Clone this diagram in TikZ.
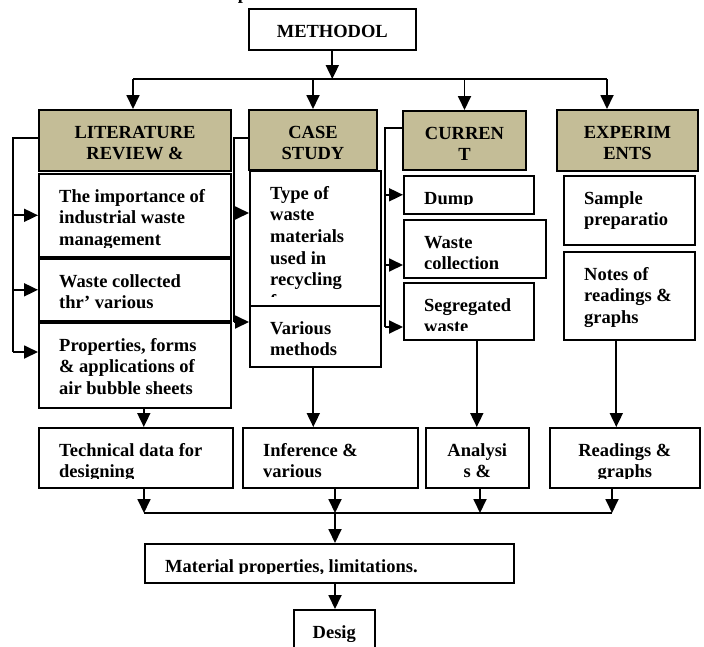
\documentclass[tikz,border=0pt]{standalone}
\usepackage{fontspec}
\setmainfont{Liberation Serif}
\usetikzlibrary{arrows.meta}
\definecolor{headtan}{HTML}{C4BD97}
\newcommand\chartfont{\fontsize{18.5}{21.7}\selectfont\bfseries}
% text of a box, clipped to its inner area
\newcommand\lefttext[2]{%
  \begin{scope}
    \clip ([yshift=10pt]#1.south west) rectangle (#1.north east);
    \node[txt, anchor=base west] at ([shift={(21pt,-29pt)}]#1.north west)
      {\begin{tabular}[t]{@{}l@{}}#2\end{tabular}};
  \end{scope}}
\newcommand\midtext[2]{%
  \begin{scope}
    \clip ([yshift=10pt]#1.south west) rectangle (#1.north east);
    \node[txt, anchor=base] at ([yshift=-29pt]#1.north)
      {\begin{tabular}[t]{@{}c@{}}#2\end{tabular}};
  \end{scope}}

\begin{document}
\begin{tikzpicture}[x=1pt,y=-1pt,
plainbox/.style={draw, line width=1.6pt, fill=white, inner sep=0pt, anchor=north west},
headbox/.style={plainbox, fill=headtan, line width=2pt},
txt/.style={inner sep=0pt, font=\chartfont},
link/.style={line width=1.8pt},
arr/.style={link, -{Triangle[width=13pt,length=14pt]}}]
\useasboundingbox (0,0) rectangle (704,646);

% top
\node[txt, anchor=base] (titlefrag) at (243,-1) {p};
\node[plainbox, minimum width=167, minimum height=41] (meth) at (248,8) {};
\midtext{meth}{METHODOL}

% headers
\node[headbox, minimum width=192, minimum height=61] (lit) at (38,109) {};
\node[headbox, minimum width=128, minimum height=60] (case) at (248,109) {};
\node[headbox, minimum width=123, minimum height=59] (cur) at (402,110) {};
\node[headbox, minimum width=141, minimum height=61] (exp) at (556,109) {};
\midtext{lit}{LITERATURE\\REVIEW \&}
\midtext{case}{CASE\\STUDY}
\midtext{cur}{CURREN\\T}
\midtext{exp}{EXPERIM\\ENTS}

% literature review
\node[plainbox, minimum width=192, minimum height=83] (imp) at (38,173) {};
\node[plainbox, minimum width=192, minimum height=62] (wcol) at (38,258) {};
\node[plainbox, minimum width=192, minimum height=85] (props) at (38,322) {};
\lefttext{imp}{The importance of\\industrial waste\\management}
\lefttext{wcol}{Waste collected\\thr’ various\\sources}
\lefttext{props}{Properties, forms\\\& applications of\\air bubble sheets}

% case study
\node[plainbox, minimum width=131, minimum height=135] (type) at (249,170) {};
\node[plainbox, minimum width=131, minimum height=61] (vari) at (249,305) {};
\lefttext{type}{Type of\\waste\\materials\\used in\\recycling\\for}
\lefttext{vari}{Various\\methods}

% current
\node[plainbox, minimum width=130, minimum height=38] (dump) at (403,175) {};
\node[plainbox, minimum width=142, minimum height=58] (wcoll) at (403,219) {};
\node[plainbox, minimum width=130, minimum height=57] (seg) at (403,282) {};
\lefttext{dump}{Dump}
\lefttext{wcoll}{Waste\\collection}
\lefttext{seg}{Segregated\\waste}

% experiments
\node[plainbox, minimum width=131, minimum height=69] (samp) at (563,175) {};
\node[plainbox, minimum width=131, minimum height=88] (notes) at (563,251) {};
\lefttext{samp}{Sample\\preparatio}
\lefttext{notes}{Notes of\\readings \&\\graphs}

% second row
\node[plainbox, minimum width=194, minimum height=60] (tech) at (38,427) {};
\node[plainbox, minimum width=175, minimum height=60] (infer) at (242,427) {};
\node[plainbox, minimum width=103, minimum height=60] (anal) at (425,427) {};
\node[plainbox, minimum width=150, minimum height=60] (read) at (549,427) {};
\lefttext{tech}{Technical data for\\designing}
\lefttext{infer}{Inference \&\\various}
\midtext{anal}{Analysi\\s \&}
\midtext{read}{Readings \&\\graphs}

% bottom
\node[plainbox, minimum width=369, minimum height=39] (mat) at (144,543) {};
\node[plainbox, minimum width=81, minimum height=41] (des) at (293,609) {};
\lefttext{mat}{Material properties, limitations.}
\midtext{des}{Desig}

% top connectors
\coordinate (busL) at (133,79);
\coordinate (busR) at (607,79);
\draw[arr] (meth.south) -- (meth.south |- busL);
\draw[link] (busL) -- (busR);
\draw[arr] (busL) -- (busL |- lit.north);
\draw[arr] (case.north |- busL) -- (case.north);
\draw[arr] (cur.north |- busL) -- (cur.north);
\draw[arr] (busR) -- (busR |- exp.north);

% side brackets
\coordinate (litj) at (13,138);
\coordinate (litend) at (13,352);
\draw[link] (lit.west |- litj) -- (litj) -- (litend);
\draw[arr] (litj |- imp.west) -- (imp.west);
\draw[arr] (litj |- wcol.west) -- (wcol.west);
\draw[arr] (litend) -- (litend -| props.west);

\coordinate (casej) at (234,138);
\coordinate (casea) at (234,213);
\coordinate (caseend) at (234,322);
\draw[link] (case.west |- casej) -- (casej) -- (caseend);
\draw[arr] (casea) -- (casea -| type.west);
\draw[arr] (caseend) -- (caseend -| vari.west);

\coordinate (curj) at (385,128);
\coordinate (cura) at (385,265);
\coordinate (curend) at (385,327);
\draw[link] (cur.west |- curj) -- (curj) -- (curend);
\draw[arr] (curj |- dump.west) -- (dump.west);
\draw[arr] (cura) -- (cura -| wcoll.west);
\draw[arr] (curend) -- (curend -| seg.west);

% down to second row
\draw[arr] ([xshift=9pt]props.south) -- ([xshift=9pt]props.south |- tech.north);
\draw[arr] ([xshift=-2pt]vari.south) -- ([xshift=-2pt]vari.south |- infer.north);
\draw[arr] ([xshift=8pt]seg.south) -- ([xshift=8pt]seg.south |- anal.north);
\draw[arr] ([xshift=-13pt]notes.south) -- ([xshift=-13pt]notes.south |- read.north);

% lower bus
\coordinate (lowL) at (144,513);
\coordinate (lowM) at (335,513);
\coordinate (lowC) at (480,513);
\coordinate (lowR) at (612,513);
\draw[link] (lowL) -- (lowR);
\draw[arr] (tech.south -| lowL) -- (lowL);
\draw[arr] (infer.south -| lowM) -- (lowM);
\draw[arr] (anal.south -| lowC) -- (lowC);
\draw[arr] (read.south -| lowR) -- (lowR);
\draw[arr] (lowM) -- (lowM |- mat.north);
\draw[arr] (mat.south -| lowM) -- (lowM |- des.north);
\end{tikzpicture}
\end{document}
